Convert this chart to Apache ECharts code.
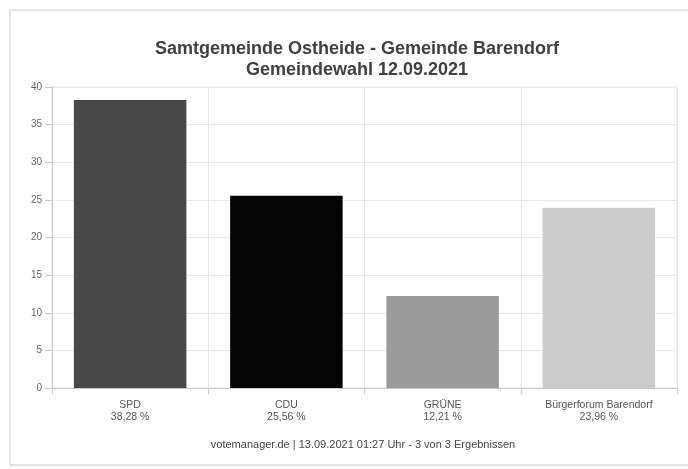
<!DOCTYPE html>
<html><head><meta charset="utf-8">
<script src="https://cdn.jsdelivr.net/npm/echarts@6/dist/echarts.min.js"></script>
<style>html,body{margin:0;padding:0;background:#fff}#c{width:688px;height:469px}</style>
</head><body><div id="c"></div>
<script>
const categories = ['SPD', 'CDU', 'GRÜNE', 'Bürgerforum Barendorf'];
const values = [38.28, 25.56, 12.21, 23.96];
const barColors = ['#484848', '#050505', '#9b9b9b', '#cbcbcb'];
const yTicks = { min: 0, max: 40, interval: 5 };
const titleText = 'Samtgemeinde Ostheide - Gemeinde Barendorf\nGemeindewahl 12.09.2021';
const footerText = 'votemanager.de | 13.09.2021 01:27 Uhr - 3 von 3 Ergebnissen';

const chart = echarts.init(document.getElementById('c'));
const fmt = v => v.toFixed(2).replace('.', ',') + ' %';
chart.setOption({
  animation: false,
  backgroundColor: '#fff',
  textStyle: { fontFamily: 'Liberation Sans, Arial, sans-serif' },
  graphic: [
    { type: 'rect', shape: { x: 10, y: 10, width: 690, height: 455 }, style: { fill: 'none', stroke: '#e4e4e4', lineWidth: 2 }, silent: true },
    { type: 'text', x: 363, y: 439, style: { text: footerText, align: 'center', fontSize: 11, fill: '#444', fontFamily: 'Liberation Sans, Arial, sans-serif' }, z: 10 }
  ],
  title: {
    text: titleText,
    left: 352, top: 34, textAlign: 'center',
    textStyle: { fontSize: 18, fontWeight: 'bold', color: '#404040', lineHeight: 21, fontFamily: 'Liberation Sans, Arial, sans-serif' }
  },
  grid: { left: 52, right: 11, top: 87, bottom: 81, show: true, borderColor: '#e2e2e2', borderWidth: 1 },
  xAxis: {
    type: 'category', data: categories,
    axisLine: { lineStyle: { color: '#c8c8c8' } },
    axisTick: { show: true, length: 6, lineStyle: { color: '#c8c8c8' } },
    splitLine: { show: true, lineStyle: { color: '#e6e6e6' } },
    axisLabel: {
      margin: 11, fontSize: 10.5, color: '#555', lineHeight: 12, interval: 0,
      formatter: (v, i) => v + '\n' + fmt(values[i])
    }
  },
  yAxis: {
    type: 'value', min: yTicks.min, max: yTicks.max, interval: yTicks.interval,
    axisLine: { show: true, lineStyle: { color: '#c8c8c8' } },
    axisTick: { show: true, length: 7, lineStyle: { color: '#c8c8c8' } },
    splitLine: { show: true, lineStyle: { color: '#e8e8e8' } },
    axisLabel: { fontSize: 10, color: '#666', margin: 10 }
  },
  series: [{
    type: 'bar',
    data: values.map((v, i) => ({ value: v, itemStyle: { color: barColors[i] } })),
    barCategoryGap: '28%'
  }]
});
</script></body></html>
